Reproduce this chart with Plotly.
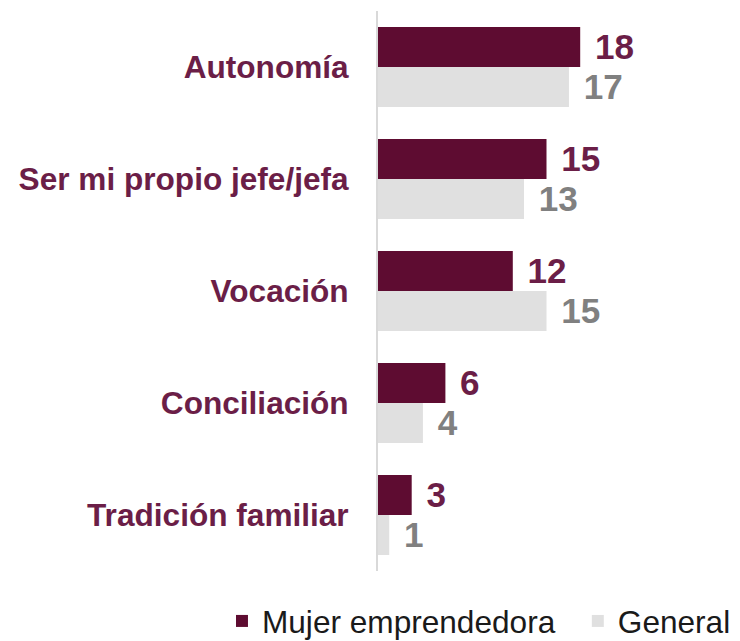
import plotly.graph_objects as go

categories = ["Autonomía", "Ser mi propio jefe/jefa", "Vocación", "Conciliación", "Tradición familiar"]
mujer = [18, 15, 12, 6, 3]
general = [17, 13, 15, 4, 1]
series_names = ["Mujer emprendedora", "General"]

MAROON = "#5e0c31"
LABEL = "#6b1e47"
GREY_BAR = "#e0e0e0"
GREY_TXT = "#808080"
FONT = "Liberation Sans, Arial, sans-serif"
pad = "\u2004"

fig = go.Figure()
fig.add_trace(go.Bar(
    y=categories, x=mujer, name=series_names[0] + "\u00a0\u00a0", orientation="h",
    marker=dict(color=MAROON, line=dict(width=0)),
    text=[pad + str(v) for v in mujer], textposition="outside",
    textfont=dict(family=FONT, size=36, color=LABEL, weight="bold"),
    cliponaxis=False,
))
fig.add_trace(go.Bar(
    y=categories, x=general, name=series_names[1], orientation="h",
    marker=dict(color=GREY_BAR, line=dict(width=0)),
    text=[pad + str(v) for v in general], textposition="outside",
    textfont=dict(family=FONT, size=36, color=GREY_TXT, weight="bold"),
    cliponaxis=False,
))

fig.update_layout(
    width=732, height=633,
    margin=dict(l=370, r=25, t=3, b=70, autoexpand=False),
    barmode="group", bargap=0.286, bargroupgap=0,
    plot_bgcolor="white", paper_bgcolor="white",
    font=dict(family=FONT),
    uniformtext=dict(mode=False),
    xaxis=dict(range=[0, 30], visible=False, fixedrange=True),
    yaxis=dict(
        autorange="reversed", showline=True, linecolor="#d9d9d9", linewidth=2,
        showgrid=False, zeroline=False, ticks="", ticklabelstandoff=21,
        tickfont=dict(family=FONT, size=31.6, color=LABEL, weight="bold"),
        automargin=False,
    ),
    showlegend=True,
    legend=dict(
        orientation="h",
        x=-0.463, xanchor="left", y=-0.090, yanchor="middle",
        font=dict(family=FONT, size=31.6, color="#1a1a1a"),
        traceorder="normal",
    ),
)

fig.write_html("out.html")
